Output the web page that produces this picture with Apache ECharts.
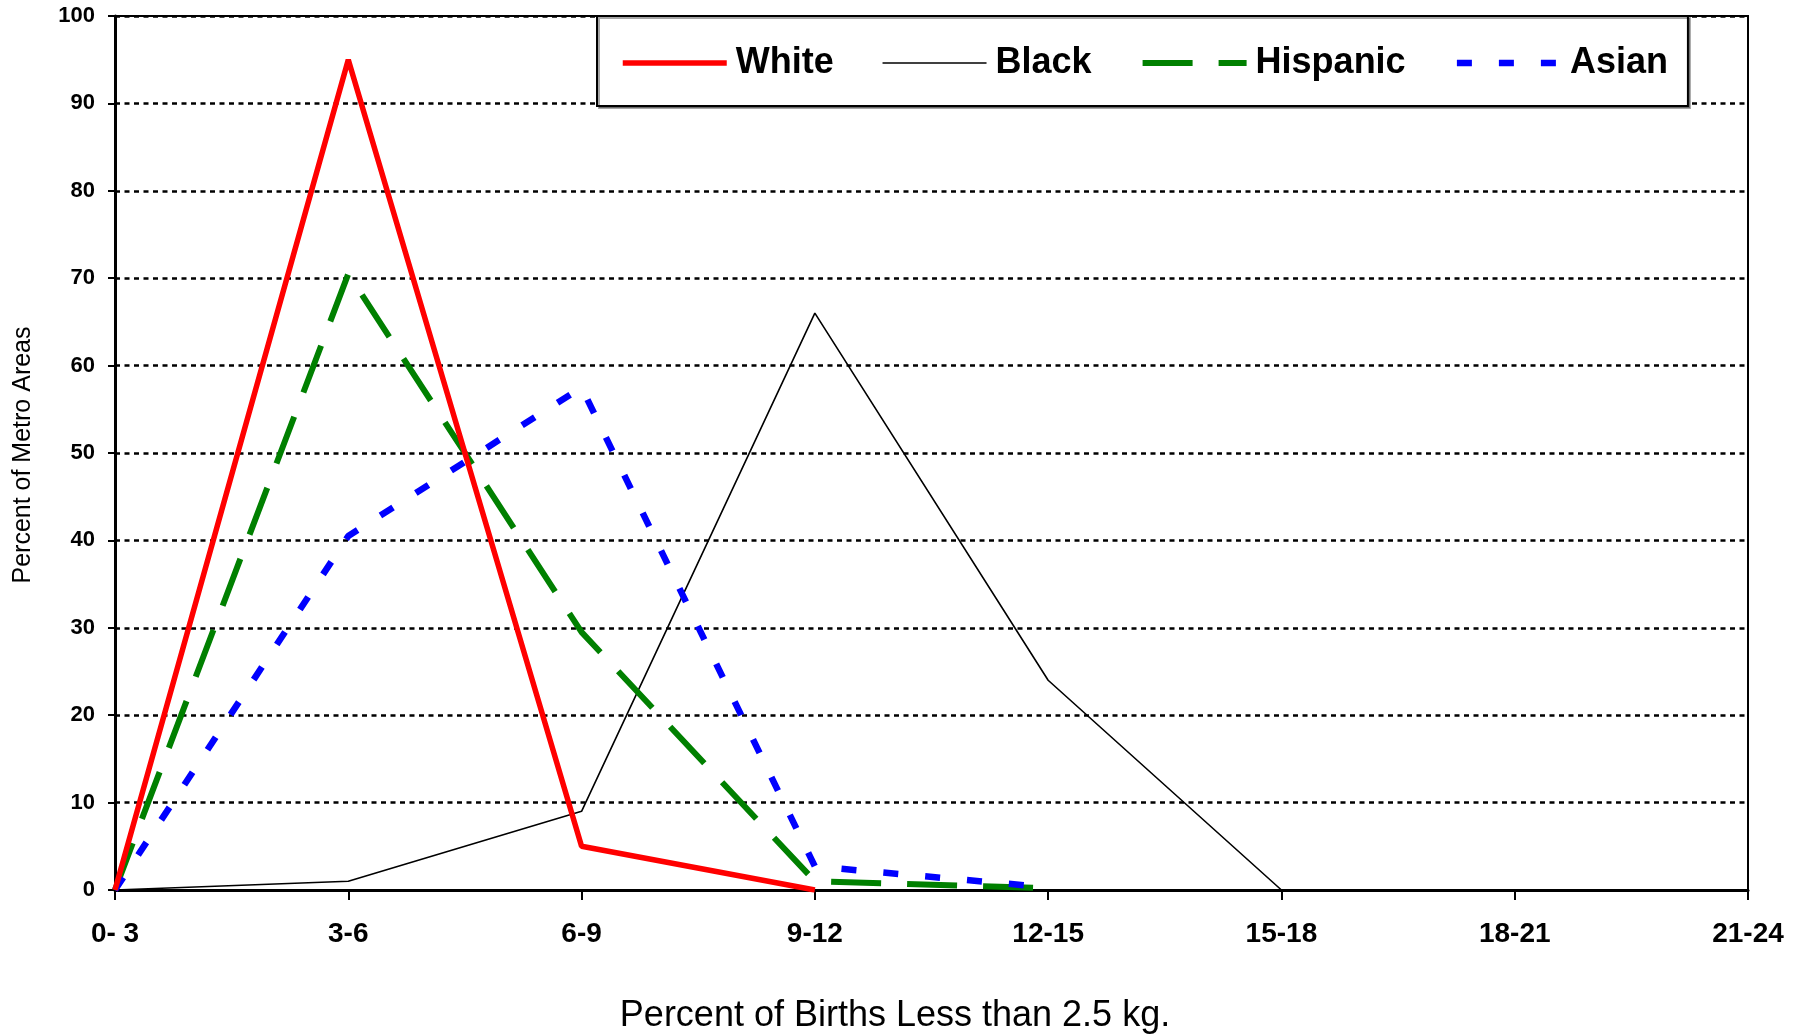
<!DOCTYPE html>
<html>
<head>
<meta charset="utf-8">
<script src="https://cdn.jsdelivr.net/npm/echarts@6/dist/echarts.min.js"></script>
<style>
html,body{margin:0;padding:0;background:#fff;}
#chart{width:1804px;height:1034px;}
</style>
</head>
<body>
<div id="chart"></div>
<script>
// Data
var categories = ['0- 3', '3-6', '6-9', '9-12', '12-15', '15-18', '18-21', '21-24'];
var white    = [0, 95, 5, 0, null, null, null, null];
var black    = [0, 1, 9, 66, 24, 0, null, null];
var hispanic = [0, 70.5, 29.5, 1, 0.2, null, null, null];
var asian    = [0, 40.5, 57.5, 2.7, 0.3, null, null, null];
var yTicks   = { min: 0, max: 100, interval: 10 };
var xTitle = 'Percent of Births Less than 2.5 kg.';
var yTitle = 'Percent of Metro Areas';

var FONT = '"Liberation Sans", Arial, sans-serif';
var chart = echarts.init(document.getElementById('chart'), null, { renderer: 'canvas' });

chart.setOption({
  animation: false,
  backgroundColor: '#ffffff',
  grid: {
    left: 115, right: 56, top: 16, bottom: 144,
    show: true, borderColor: '#000', borderWidth: 2, backgroundColor: 'transparent'
  },
  legend: {
    left: 597, top: 16,
    orient: 'horizontal',
    backgroundColor: '#ffffff',
    borderColor: '#000', borderWidth: 2,
    shadowColor: 'rgba(0,0,0,0.35)', shadowOffsetX: 2, shadowOffsetY: 2, shadowBlur: 0,
    padding: [29, 20, 25, 23],
    itemWidth: 104, itemHeight: 14, itemGap: 48,
    itemStyle: { opacity: 0 },
    lineStyle: { width: 'inherit' },
    textStyle: { fontFamily: FONT, fontSize: 36, fontWeight: 'bold', color: '#000', padding: [0, 0, 0, 4] },
    data: ['White', 'Black', 'Hispanic', 'Asian']
  },
  xAxis: {
    type: 'category',
    data: categories,
    boundaryGap: false,
    axisLine: { show: true, lineStyle: { color: '#000', width: 3 } },
    axisTick: { show: true, alignWithLabel: true, length: 10, lineStyle: { color: '#000', width: 2 } },
    axisLabel: { fontFamily: FONT, fontSize: 28, fontWeight: 'bold', color: '#000', margin: 30 },
    splitLine: { show: false }
  },
  yAxis: {
    type: 'value',
    min: yTicks.min, max: yTicks.max, interval: yTicks.interval,
    axisLine: { show: true, lineStyle: { color: '#000', width: 3 } },
    axisTick: { show: true, length: 7, lineStyle: { color: '#000', width: 2 } },
    axisLabel: { fontFamily: FONT, fontSize: 22, fontWeight: 'bold', color: '#000', margin: 20 },
    splitLine: { show: true, lineStyle: { color: '#000', width: 2.5, type: [5, 4.5] } }
  },
  graphic: [
    {
      type: 'text', x: 895, y: 1016,
      style: { text: xTitle, font: 'normal 36px ' + FONT, fill: '#000', textAlign: 'center', textVerticalAlign: 'middle' }
    },
    {
      type: 'text', x: 23, y: 455, rotation: Math.PI / 2,
      style: { text: yTitle, font: 'normal 25px ' + FONT, fill: '#000', textAlign: 'center', textVerticalAlign: 'middle' }
    }
  ],
  series: [
    {
      name: 'White', type: 'line', data: white, symbol: 'none', z: 6,
      itemStyle: { color: '#ff0000' },
      lineStyle: { color: '#ff0000', width: 5.5, type: 'solid' }
    },
    {
      name: 'Black', type: 'line', data: black, symbol: 'none', z: 3,
      itemStyle: { color: '#000000' },
      lineStyle: { color: '#000000', width: 1.6, type: 'solid' }
    },
    {
      name: 'Hispanic', type: 'line', data: hispanic, symbol: 'none', z: 4,
      itemStyle: { color: '#008000' },
      lineStyle: { color: '#008000', width: 6, type: [50, 26] }
    },
    {
      name: 'Asian', type: 'line', data: asian, symbol: 'none', z: 4,
      itemStyle: { color: '#0000ff' },
      lineStyle: { color: '#0000ff', width: 6.5, type: [15, 27] }
    }
  ]
});
</script>
</body>
</html>
